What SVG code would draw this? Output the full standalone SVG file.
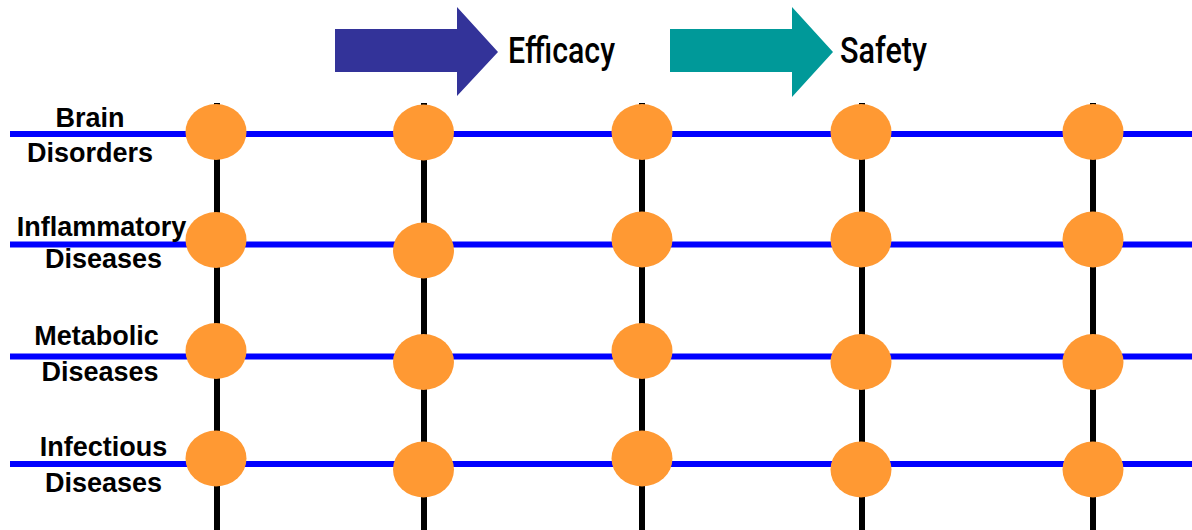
<svg xmlns="http://www.w3.org/2000/svg" width="1192" height="530" viewBox="0 0 1192 530">
<style>
.v{stroke:#000;stroke-width:6;}
.h{stroke:#0000FF;stroke-width:6;}
.n{fill:#FF9933;}
.lbl{font-family:"Liberation Sans",Arial,sans-serif;font-weight:bold;font-size:27px;fill:#000;text-anchor:middle;}
.ttl{font-family:Roboto,"Liberation Sans",sans-serif;font-size:36px;font-weight:500;fill:#000;}
</style>
<rect width="1192" height="530" fill="#fff"/>
<g id="arrows">
<polygon id="efficacy-arrow" points="335,29 457,29 457,7 498,52 457,96 457,72 335,72" fill="#333399"/>
<text class="ttl" x="508" y="63" textLength="107" lengthAdjust="spacingAndGlyphs">Efficacy</text>
<polygon id="safety-arrow" points="670,29 792,29 792,7 833,52 792,97 792,72 670,72" fill="#009999"/>
<text class="ttl" x="840" y="63" textLength="87" lengthAdjust="spacingAndGlyphs">Safety</text>
</g>
<g id="connectors">
<line class="v" x1="217" y1="103" x2="217" y2="530"/>
<line class="v" x1="424" y1="103" x2="424" y2="530"/>
<line class="v" x1="642" y1="103" x2="642" y2="530"/>
<line class="v" x1="862" y1="103" x2="862" y2="530"/>
<line class="v" x1="1093" y1="103" x2="1093" y2="530"/>
<line class="h" x1="10" y1="134" x2="1192" y2="134"/>
<line class="h" x1="10" y1="244.5" x2="1192" y2="244.5"/>
<line class="h" x1="10" y1="356.5" x2="1192" y2="356.5"/>
<line class="h" x1="10" y1="464" x2="1192" y2="464"/>
</g>
<g id="labels">
<g id="label-brain"><text class="lbl" x="90" y="127">Brain</text><text class="lbl" x="90" y="162">Disorders</text></g>
<g id="label-inflammatory"><text class="lbl" x="101.5" y="236">Inflammatory</text><text class="lbl" x="103.5" y="268">Diseases</text></g>
<g id="label-metabolic"><text class="lbl" x="96.5" y="345">Metabolic</text><text class="lbl" x="100" y="381">Diseases</text></g>
<g id="label-infectious"><text class="lbl" x="103.5" y="456">Infectious</text><text class="lbl" x="103.5" y="492">Diseases</text></g>
</g>
<g id="nodes">
<g id="n-1-1"><ellipse class="n" cx="216" cy="132" rx="30.5" ry="28"/></g>
<g id="n-1-2"><ellipse class="n" cx="216" cy="240" rx="30.5" ry="28"/></g>
<g id="n-1-3"><ellipse class="n" cx="216" cy="351" rx="30.5" ry="28"/></g>
<g id="n-1-4"><ellipse class="n" cx="216" cy="458.5" rx="30.5" ry="28"/></g>
<g id="n-2-1"><ellipse class="n" cx="423.5" cy="132.5" rx="30.5" ry="28"/></g>
<g id="n-2-2"><ellipse class="n" cx="423.5" cy="250.5" rx="30.5" ry="28"/></g>
<g id="n-2-3"><ellipse class="n" cx="423.5" cy="362" rx="30.5" ry="28"/></g>
<g id="n-2-4"><ellipse class="n" cx="423.5" cy="469.5" rx="30.5" ry="28"/></g>
<g id="n-3-1"><ellipse class="n" cx="642" cy="132" rx="30.5" ry="28"/></g>
<g id="n-3-2"><ellipse class="n" cx="642" cy="239.5" rx="30.5" ry="28"/></g>
<g id="n-3-3"><ellipse class="n" cx="642" cy="351" rx="30.5" ry="28"/></g>
<g id="n-3-4"><ellipse class="n" cx="642" cy="458.5" rx="30.5" ry="28"/></g>
<g id="n-4-1"><ellipse class="n" cx="861" cy="132" rx="30.5" ry="28"/></g>
<g id="n-4-2"><ellipse class="n" cx="861" cy="239.5" rx="30.5" ry="28"/></g>
<g id="n-4-3"><ellipse class="n" cx="861" cy="362" rx="30.5" ry="28"/></g>
<g id="n-4-4"><ellipse class="n" cx="861" cy="469.5" rx="30.5" ry="28"/></g>
<g id="n-5-1"><ellipse class="n" cx="1093" cy="132" rx="30.5" ry="28"/></g>
<g id="n-5-2"><ellipse class="n" cx="1093" cy="239.5" rx="30.5" ry="28"/></g>
<g id="n-5-3"><ellipse class="n" cx="1093" cy="362" rx="30.5" ry="28"/></g>
<g id="n-5-4"><ellipse class="n" cx="1093" cy="469.5" rx="30.5" ry="28"/></g>
</g>
</svg>
